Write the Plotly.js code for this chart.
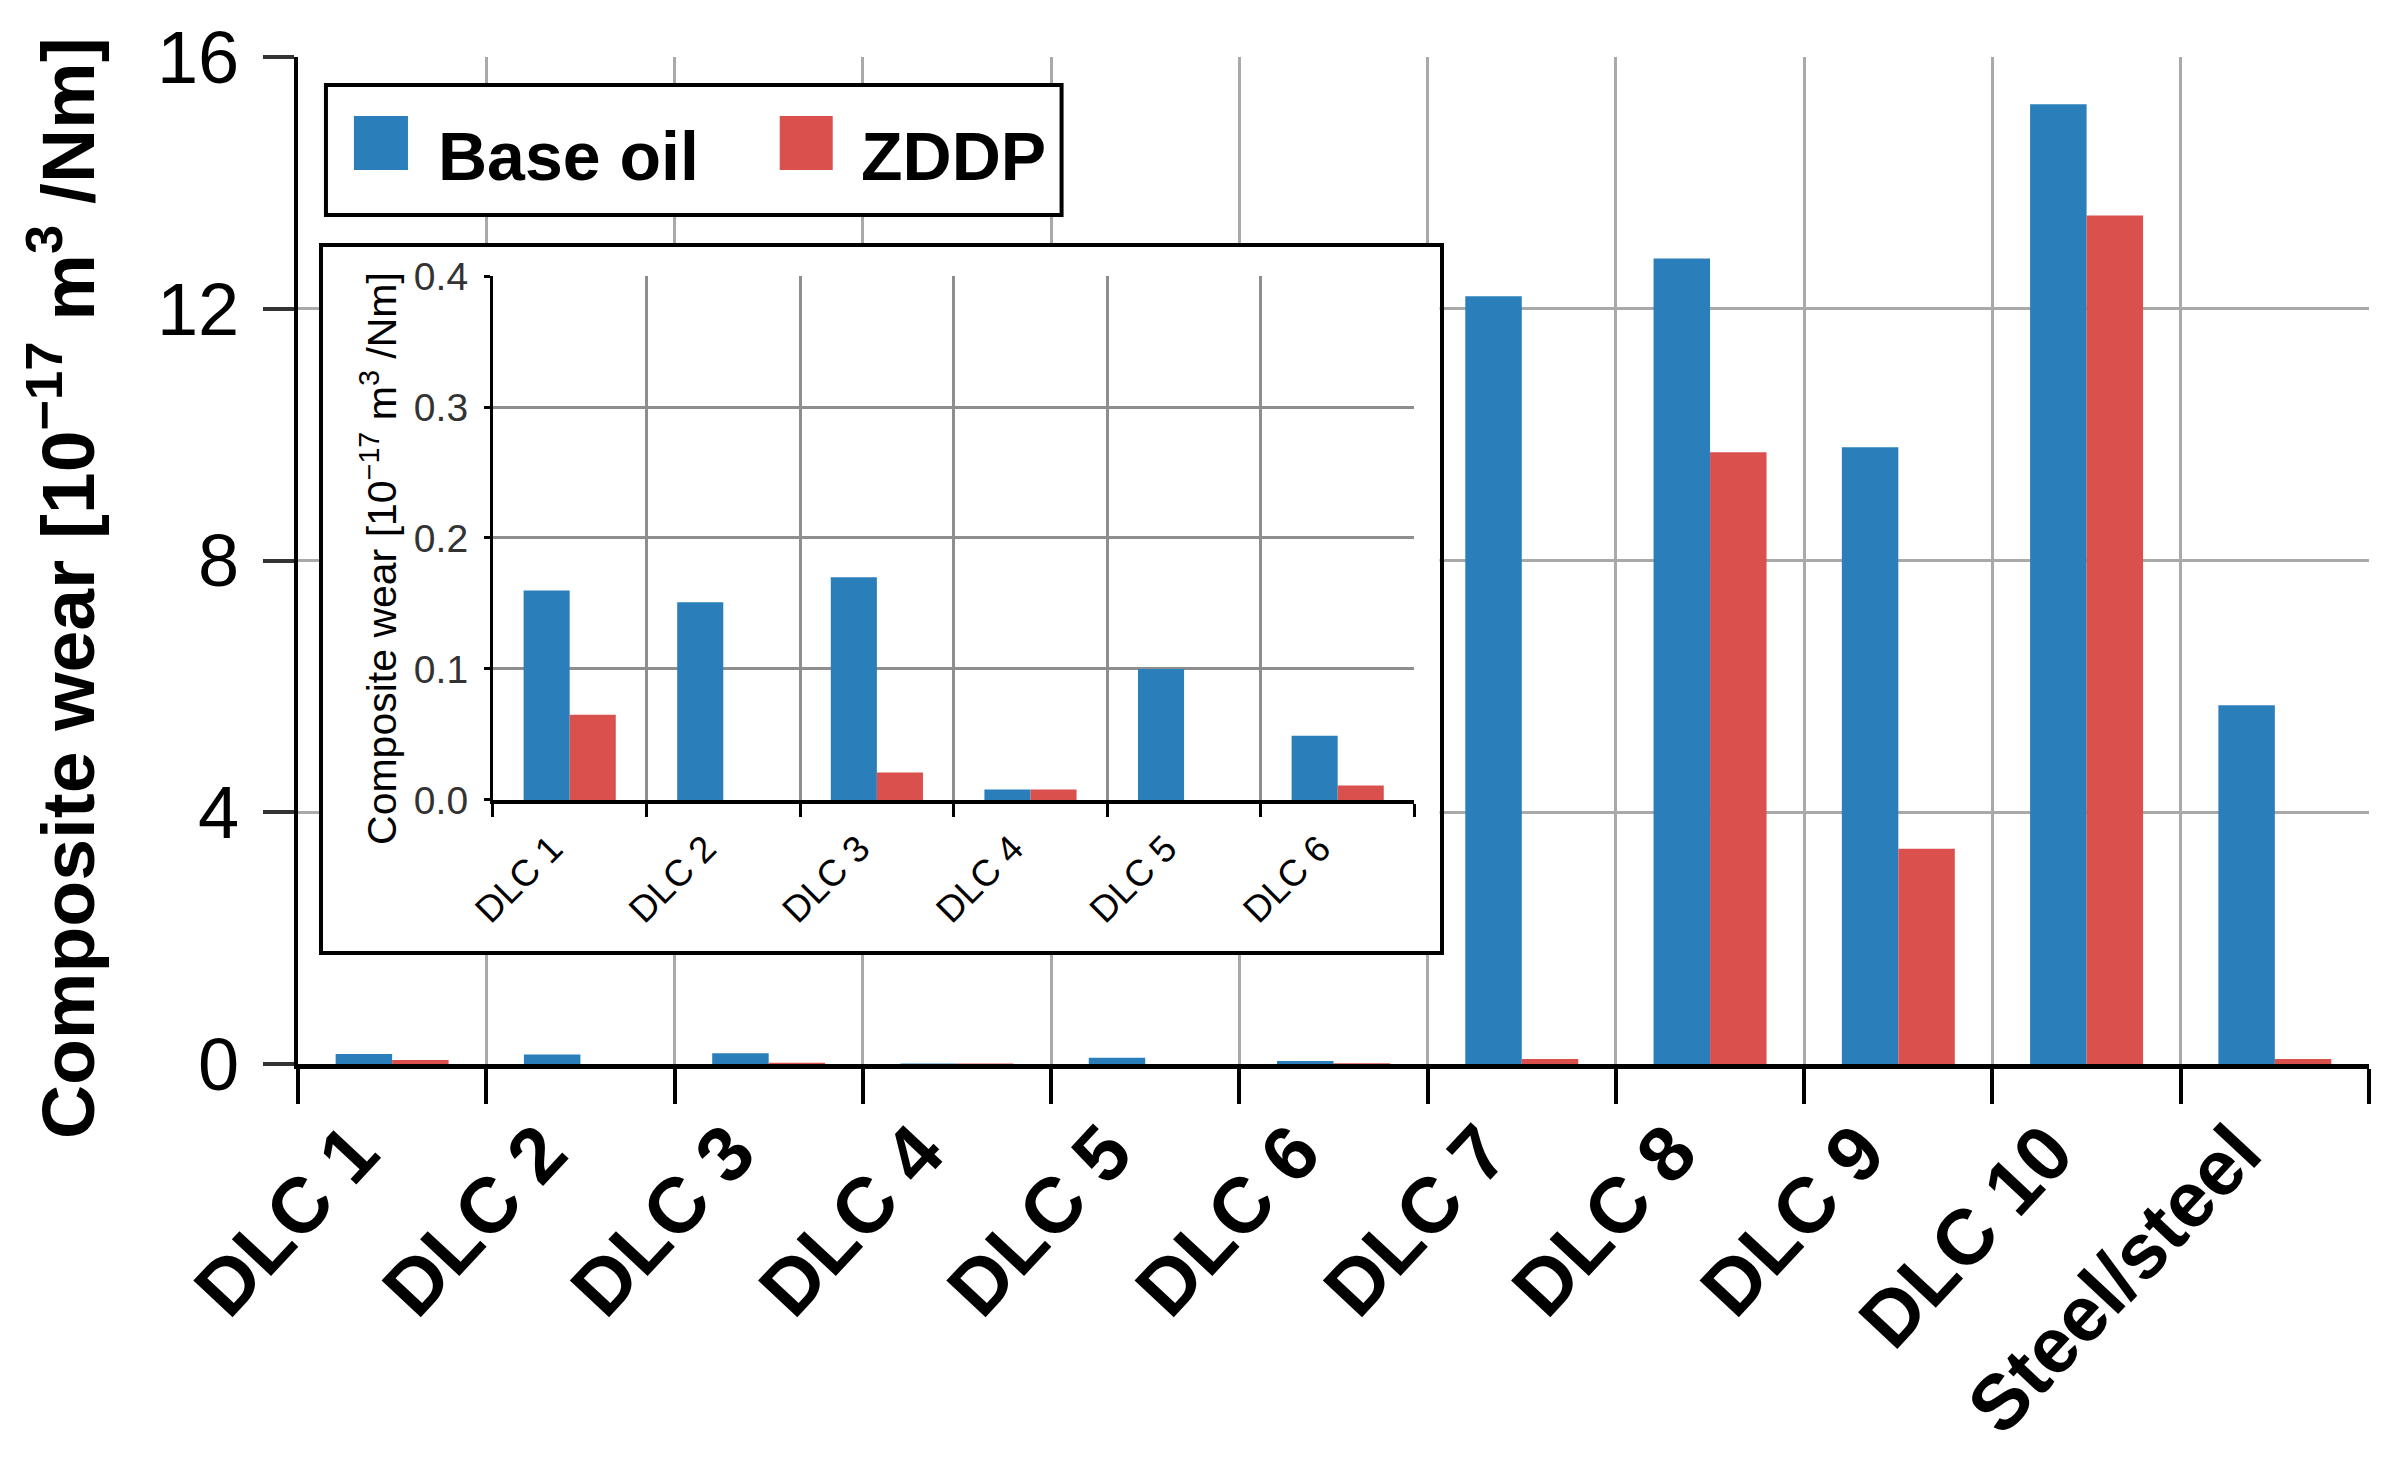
<!DOCTYPE html>
<html>
<head>
<meta charset="utf-8">
<script src="https://cdn.plot.ly/plotly-3.0.1.min.js"></script>
<style>html,body{margin:0;padding:0;background:#fff;}#chart{width:2400px;height:1471px;}</style>
</head>
<body>
<div id="chart"></div>
<script>
// ---- data ----
const categories = ['DLC 1','DLC 2','DLC 3','DLC 4','DLC 5','DLC 6','DLC 7','DLC 8','DLC 9','DLC 10','Steel/steel'];
const baseOil = [0.160, 0.151, 0.170, 0.008, 0.100, 0.049, 12.2, 12.8, 9.8, 15.25, 5.7];
const zddp    = [0.065, 0.0,   0.021, 0.008, 0.0,   0.011, 0.08, 9.72, 3.42, 13.48, 0.08];
const insetCount = 6;
const insetCategories = categories.slice(0, insetCount);
const insetBase = baseOil.slice(0, insetCount);
const insetZddp = zddp.slice(0, insetCount);
const seriesNames = ['Base oil', 'ZDDP'];
const mainTicks = [0, 4, 8, 12, 16];
const insetTicks = [0, 0.1, 0.2, 0.3, 0.4];

const BLUE = '#2a7fbb';
const RED = '#d9504d';
const FONT = 'Liberation Sans, Arial, sans-serif';
const titleText = 'Composite wear [10<sup>\u221217</sup> m<sup>3</sup> /Nm]';

const traces = [
  {type:'bar', x:categories, y:baseOil, name:seriesNames[0], marker:{color:BLUE, line:{width:0}}, xaxis:'x', yaxis:'y', showlegend:false},
  {type:'bar', x:categories, y:zddp, name:seriesNames[1], marker:{color:RED, line:{width:0}}, xaxis:'x', yaxis:'y', showlegend:false},
  // frame subplot for the inset box (no data)
  {type:'scatter', x:[], y:[], xaxis:'x2', yaxis:'y2', showlegend:false, hoverinfo:'skip'},
  {type:'bar', x:insetCategories, y:insetBase, name:seriesNames[0], marker:{color:BLUE, line:{width:0}}, xaxis:'x3', yaxis:'y3', showlegend:false},
  {type:'bar', x:insetCategories, y:insetZddp, name:seriesNames[1], marker:{color:RED, line:{width:0}}, xaxis:'x3', yaxis:'y3', showlegend:false}
];

const GRID = '#a9a9a9';
const IGRID = '#8e8e8e';

const layout = {
  width: 2400, height: 1471,
  margin: {l: 298, r: 31, t: 57, b: 407},
  paper_bgcolor: '#fff', plot_bgcolor: '#fff',
  font: {family: FONT, color: '#000'},
  barmode: 'group', bargap: 0.4, bargroupgap: 0,
  xaxis: {
    domain: [0, 1], type: 'category', range: [-0.5, categories.length - 0.5],
    tickson: 'boundaries', ticks: 'outside', ticklen: 35, tickwidth: 4, tickcolor: '#000',
    showgrid: true, gridcolor: GRID, gridwidth: 3,
    showline: true, linecolor: '#000', linewidth: 5,
    tickangle: -47, ticklabelshift: -38, ticklabelstandoff: 6,
    tickfont: {family: FONT, size: 78, weight: 'bold', color: '#000'},
    fixedrange: true
  },
  yaxis: {
    domain: [0, 1], range: [0, 16], tickvals: mainTicks, ticktext: mainTicks.map(String),
    ticks: 'outside', ticklen: 31, tickwidth: 4, tickcolor: '#333',
    showgrid: true, gridcolor: GRID, gridwidth: 3, zeroline: false,
    showline: true, linecolor: '#000', linewidth: 4,
    tickfont: {family: FONT, size: 74, color: '#000'},
    ticklabelstandoff: 9,
    fixedrange: true
  },
  xaxis2: {
    domain: [0.01207, 0.5512], anchor: 'y2', range: [0, 1], type: 'linear',
    showgrid: false, zeroline: false, showticklabels: false, ticks: '',
    showline: true, mirror: true, linecolor: '#000', linewidth: 4, fixedrange: true
  },
  yaxis2: {
    domain: [0.1122, 0.8113], anchor: 'x2', range: [0, 1], type: 'linear',
    showgrid: false, zeroline: false, showticklabels: false, ticks: '',
    showline: true, mirror: true, linecolor: '#000', linewidth: 4, fixedrange: true
  },
  xaxis3: {
    domain: [0.0941, 0.5391], anchor: 'y3', type: 'category', range: [-0.5, insetCount - 0.5],
    tickson: 'boundaries', ticks: 'outside', ticklen: 13, tickwidth: 3, tickcolor: '#000',
    showgrid: true, gridcolor: IGRID, gridwidth: 3,
    showline: true, linecolor: '#000', linewidth: 4,
    tickangle: -45, ticklabelshift: -18, ticklabelstandoff: 8,
    tickfont: {family: FONT, size: 37, color: '#000'},
    fixedrange: true
  },
  yaxis3: {
    domain: [0.2622, 0.7825], anchor: 'x3', range: [0, 0.4],
    tickvals: insetTicks, ticktext: insetTicks.map(v => v.toFixed(1)),
    ticks: 'outside', ticklen: 6, tickwidth: 3, tickcolor: '#000',
    showgrid: true, gridcolor: IGRID, gridwidth: 3, zeroline: false,
    showline: true, linecolor: '#000', linewidth: 3,
    tickfont: {family: FONT, size: 39, color: '#333'},
    ticklabelstandoff: 8,
    fixedrange: true
  },
  shapes: [
    // legend box
    {type:'rect', xref:'paper', yref:'paper', x0:0.0135, x1:0.3687, y0:0.8431, y1:0.9722,
     fillcolor:'#fff', line:{color:'#000', width:4}, layer:'above'},
    {type:'rect', xref:'paper', yref:'paper', x0:0.0270, x1:0.0531, y0:0.8878, y1:0.9414,
     fillcolor:BLUE, line:{width:0}, layer:'above'},
    {type:'rect', xref:'paper', yref:'paper', x0:0.2326, x1:0.2582, y0:0.8878, y1:0.9414,
     fillcolor:RED, line:{width:0}, layer:'above'}
  ],
  annotations: [
    {xref:'paper', yref:'paper', x:0.0666, y:0.9012, xanchor:'left', yanchor:'middle', showarrow:false,
     text:seriesNames[0], font:{family:FONT, size:68, weight:'bold', color:'#000'}},
    {xref:'paper', yref:'paper', x:0.2708, y:0.9012, xanchor:'left', yanchor:'middle', showarrow:false,
     text:seriesNames[1], font:{family:FONT, size:68, weight:'bold', color:'#000'}},
    // main y-axis title
    {xref:'paper', yref:'paper', x:-0.1139, y:0.4727, xanchor:'center', yanchor:'middle', showarrow:false,
     textangle:-90, text:titleText, font:{family:FONT, size:75, weight:'bold', color:'#000'}},
    // inset y-axis title
    {xref:'paper', yref:'paper', x:0.0391, y:0.5025, xanchor:'center', yanchor:'middle', showarrow:false,
     textangle:-90, text:titleText, font:{family:FONT, size:41, color:'#000'}}
  ]
};

Plotly.newPlot('chart', traces, layout, {displayModeBar:false, staticPlot:true});
</script>
</body>
</html>
